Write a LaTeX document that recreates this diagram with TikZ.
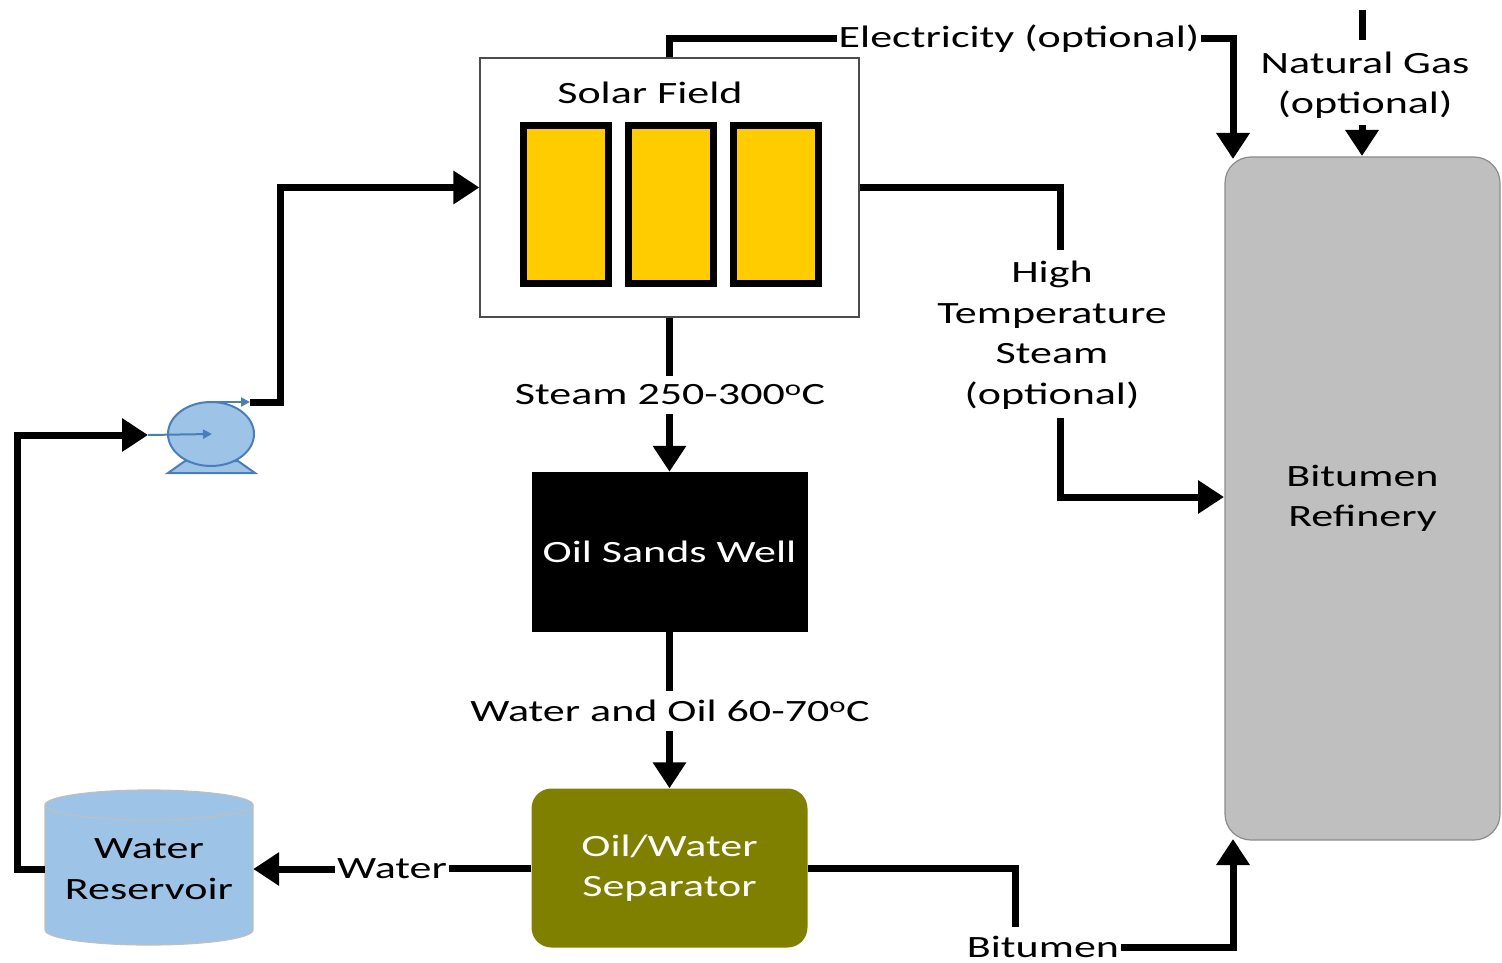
\documentclass[tikz,border=0pt]{standalone}
\usepackage{fontspec}
\setmainfont{Carlito}[FakeStretch=1.42]
\usetikzlibrary{arrows.meta,shapes.geometric}
\definecolor{panelY}{HTML}{FFCC00}
\definecolor{refG}{HTML}{BFBFBF}
\definecolor{refB}{HTML}{8C8C8C}
\definecolor{oliveC}{HTML}{808000}
\definecolor{waterF}{HTML}{9DC3E6}
\definecolor{pumpB}{HTML}{4A7EBB}
\tikzset{
  txt/.style={font=\fontsize{31}{40.5}\selectfont, align=center, inner xsep=2pt, inner ysep=9pt},
  flow/.style={line width=7pt, black},
  arr/.style={flow, -{Triangle[width=32pt,length=26pt]}},
  panel/.style={draw=black, line width=7pt, fill=panelY, minimum width=85pt, minimum height=158pt, inner sep=0pt},
  thinblue/.style={draw=pumpB, line width=2pt},
}
\begin{document}
\begin{tikzpicture}[x=1pt,y=-1pt]
\useasboundingbox (0,0) rectangle (1502,963);
% Solar field
\node[draw=black!70, line width=1.2pt, fill=white, minimum width=379pt, minimum height=259pt, inner sep=0pt] (solar) at (669.5,187.5) {};
\node[txt] (sftitle) at (650,93) {Solar Field};
\node[panel] (p1) at (566,204.5) {};
\node[panel] (p2) at (671,204.5) {};
\node[panel] (p3) at (776,204.5) {};
% Oil sands well
\node[fill=black, minimum width=276pt, minimum height=160pt, txt, text=white] (well) at (669.5,552) {Oil Sands Well};
% Separator
\node[fill=oliveC, rounded corners=20pt, minimum width=276pt, minimum height=159pt, txt, text=white] (sep) at (669.5,868) {Oil/Water\\Separator};
% Refinery
\node[draw=refB, line width=1.2pt, fill=refG, rounded corners=26pt, minimum width=275pt, minimum height=683pt, txt] (ref) at (1362.5,498.5) {Bitumen\\Refinery};
% Reservoir cylinder
\fill[waterF] (45,805) -- (45,930) arc[start angle=180, end angle=360, x radius=104, y radius=-15] -- (253,805) arc[start angle=0, end angle=180, x radius=104, y radius=-15] -- cycle;
\draw[black!25, line width=1.2pt] (149,805) ellipse[x radius=104, y radius=15];
\draw[black!25, line width=1.2pt] (45,805) -- (45,930) arc[start angle=180, end angle=360, x radius=104, y radius=-15] -- (253,805);
\node[txt, minimum width=208pt, inner xsep=0pt] (res) at (149,869) {Water\\Reservoir};
% Pump
\filldraw[thinblue, fill=waterF] (168,473) -- (185,461) -- (238,461) -- (255,473) -- cycle;
\node[ellipse, thinblue, fill=waterF, minimum width=86pt, minimum height=64pt, inner sep=0pt] (pump) at (211,434) {};
\coordinate (pumpin) at (148,435);
\coordinate (pumpout) at (250,402);
\coordinate (pumpctr) at (212,434);
\coordinate (pumptop) at (211,402);
\draw[thinblue, -{Triangle[width=9pt,length=9pt]}] (pumpin) -- (pumpctr);
\draw[thinblue, -{Triangle[width=9pt,length=9pt]}] (pumptop) -- (pumpout);
% Labels
\node[txt] (elec) at (1019,39) {Electricity (optional)};
\node[txt] (ng) at (1365,85) {Natural Gas\\(optional)};
\node[txt] (hts) at (1052,335) {High\\Temperature\\Steam\\(optional)};
\node[txt] (steam) at (670,395) {Steam 250-300\textsuperscript{o}C};
\node[txt] (wo) at (670,711) {Water and Oil 60-70\textsuperscript{o}C};
\node[txt] (water) at (392,869) {Water};
\node[txt] (bit) at (1043,947) {Bitumen};
% coordinates
\coordinate (htsA) at (1060,250);
\coordinate (htsB) at (1060,418);
\coordinate (refL) at (1224,497);
\coordinate (refTL) at (1233,159);
\coordinate (refBL) at (1233,839);
\coordinate (ngtop) at (1362,10);
\coordinate (ngA) at (1362,40);
\coordinate (ngB) at (1362,125);
\coordinate (ngC) at (1362,156);
\coordinate (bitA) at (1015,927);
% Connectors
\draw[flow] (solar.north) |- (elec.west);
\draw[arr] (elec.east) -| (refTL);
\draw[flow] (ngtop) -- (ngA);
\draw[arr] (ngB) -- (ngC);
\draw[flow] (solar.east) -| (htsA);
\draw[arr] (htsB) |- (refL);
\draw[flow] (solar.south) -- (solar.south |- steam.north);
\draw[arr] (well.north |- steam.south) -- (well.north);
\draw[flow] (well.south) -- (well.south |- wo.north);
\draw[arr] (sep.north |- wo.south) -- (sep.north);
\draw[flow] (sep.west) -- (sep.west -| water.east);
\draw[arr] (water.west) -- (water.west -| res.east);
\draw[flow] (sep.east) -| (bitA);
\draw[arr] (bit.east) -| (refBL);
\draw[arr] (res.west) -- ++(-27,0) |- (pumpin);
\draw[arr] (pumpout) -- ++(30,0) |- (solar.west);
\end{tikzpicture}
\end{document}
